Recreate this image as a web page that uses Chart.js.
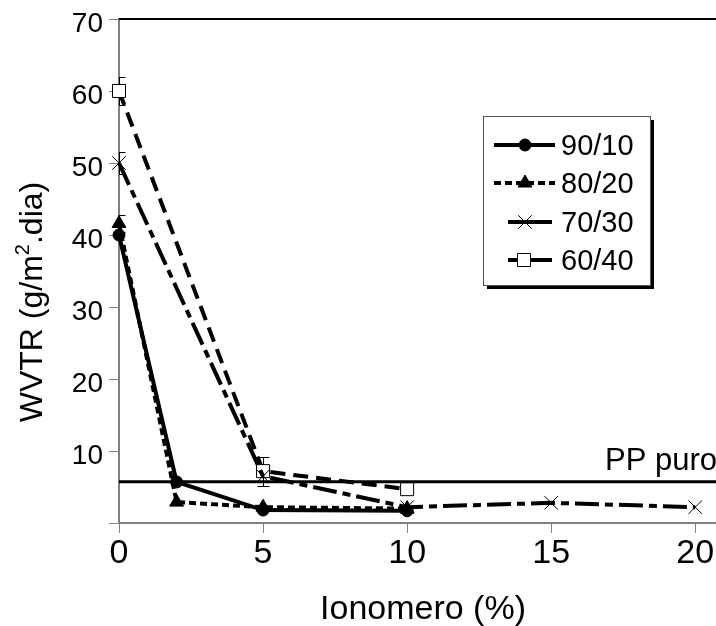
<!DOCTYPE html>
<html>
<head>
<meta charset="utf-8">
<script src="https://cdn.jsdelivr.net/npm/chart.js@4.4.0/dist/chart.umd.min.js"></script>
<style>
html,body{margin:0;padding:0;background:#fff;}
#wrap{width:716px;height:626px;}
</style>
</head>
<body>
<div id="wrap"><canvas id="c" width="716" height="626"></canvas></div>
<script>
// ---- data ----
const xTicks = [0, 5, 10, 15, 20];
const yTicks = [0, 10, 20, 30, 40, 50, 60, 70];
const seriesNames = ['90/10', '80/20', '70/30', '60/40'];
const x9010 = [0, 2, 5, 10];
const y9010 = [40, 5.7, 1.8, 1.7];
const e9010 = [0, 0, 0, 0];
const x8020 = [0, 2, 5, 10];
const y8020 = [41.6, 2.9, 2.2, 2.0];
const e8020 = [1.2, 0, 0, 0];
const x7030 = [0, 5, 10, 15, 20];
const y7030 = [50, 6.5, 2.2, 2.8, 2.2];
const e7030 = [1.5, 0, 0, 0, 0];
const x6040 = [0, 5, 10];
const y6040 = [60, 7.2, 4.7];
const e6040 = [2, 2, 0];
const ppPuroLabel = 'PP puro';
const ppPuroValue = 5.74;
const xTitle = 'Ionomero (%)';
const yTitleParts = ['WVTR (g/m', '2', '.dia)'];

const xMin = 0, xMax = 20.72, yMin = 0, yMax = 70;
const FONT = '"Liberation Sans", Arial, sans-serif';

function pts(xs, ys) { return xs.map((x, i) => ({x: x, y: ys[i]})); }

const styles = [
  {dash: [], pointStyle: 'circle', radius: 6, bg: '#000', pbw: 1},
  {dash: [7, 4], pointStyle: 'triangle', radius: 8, bg: '#000', pbw: 1},
  {dash: [24, 6, 8, 6], pointStyle: 'crossRot', radius: 9.5, bg: '#000', pbw: 1},
  {dash: [15, 8], pointStyle: 'rect', radius: 9.2, bg: '#fff', pbw: 1}
];
const seriesX = [x9010, x8020, x7030, x6040];
const seriesY = [y9010, y8020, y7030, y6040];
const seriesE = [e9010, e8020, e7030, e6040];

const datasets = seriesNames.map((name, k) => ({
  label: name,
  data: pts(seriesX[k], seriesY[k]),
  errors: seriesE[k],
  borderColor: '#000',
  borderWidth: 4,
  borderDash: styles[k].dash,
  pointStyle: styles[k].pointStyle,
  pointRadius: styles[k].radius,
  pointHoverRadius: styles[k].radius,
  pointBackgroundColor: styles[k].bg,
  pointBorderColor: '#000',
  pointBorderWidth: styles[k].pbw,
  tension: 0,
  fill: false,
  clip: false
}));
datasets.unshift({
  label: ppPuroLabel,
  data: pts([xMin, xMax], [ppPuroValue, ppPuroValue]),
  borderColor: '#000',
  borderWidth: 3,
  pointRadius: 0,
  tension: 0,
  fill: false,
  clip: false
});

function drawMarker(ctx, style, r, x, y, bg) {
  ctx.save();
  ctx.setLineDash([]);
  ctx.strokeStyle = '#000';
  ctx.fillStyle = bg;
  ctx.lineWidth = 1;
  ctx.beginPath();
  if (style === 'circle') {
    ctx.arc(x, y, r, 0, Math.PI * 2);
    ctx.fill(); ctx.stroke();
  } else if (style === 'triangle') {
    ctx.moveTo(x, y - r);
    ctx.lineTo(x + r * 0.866, y + r * 0.5);
    ctx.lineTo(x - r * 0.866, y + r * 0.5);
    ctx.closePath();
    ctx.fill(); ctx.stroke();
  } else if (style === 'crossRot') {
    const s = r * 0.707;
    ctx.moveTo(x - s, y - s); ctx.lineTo(x + s, y + s);
    ctx.moveTo(x + s, y - s); ctx.lineTo(x - s, y + s);
    ctx.stroke();
  } else if (style === 'rect') {
    const s = r * 0.707;
    ctx.rect(x - s, y - s, 2 * s, 2 * s);
    ctx.fill(); ctx.stroke();
  }
  ctx.restore();
}

const decorPlugin = {
  id: 'decor',
  beforeDatasetsDraw(chart) {
    const ctx = chart.ctx, a = chart.chartArea;
    // top frame line
    ctx.save();
    ctx.strokeStyle = '#000';
    ctx.lineWidth = 2;
    ctx.beginPath();
    ctx.moveTo(a.left, a.top);
    ctx.lineTo(a.right, a.top);
    ctx.stroke();
    ctx.restore();
    // error bars
    const xs = chart.scales.x, ys = chart.scales.y;
    ctx.save();
    ctx.beginPath();
    ctx.rect(a.left, 0, chart.width - a.left, chart.height);
    ctx.clip();
    ctx.strokeStyle = '#000';
    ctx.lineWidth = 1;
    chart.data.datasets.forEach(ds => {
      if (!ds.errors) return;
      ds.data.forEach((p, i) => {
        const e = ds.errors[i];
        if (!e) return;
        const px = Math.round(xs.getPixelForValue(p.x)) + 0.5;
        const t = Math.round(ys.getPixelForValue(p.y + e)) + 0.5;
        const b = Math.round(ys.getPixelForValue(p.y - e)) + 0.5;
        ctx.beginPath();
        ctx.moveTo(px, t); ctx.lineTo(px, b);
        ctx.moveTo(px - 6, t); ctx.lineTo(px + 6, t);
        ctx.moveTo(px - 6, b); ctx.lineTo(px + 6, b);
        ctx.stroke();
      });
    });
    ctx.restore();
  },
  afterDraw(chart) {
    const ctx = chart.ctx;
    const ys = chart.scales.y;
    // PP puro label
    ctx.save();
    ctx.fillStyle = '#000';
    ctx.font = '31px ' + FONT;
    ctx.textAlign = 'left';
    ctx.textBaseline = 'alphabetic';
    ctx.fillText(ppPuroLabel, 605, ys.getPixelForValue(ppPuroValue) - 12);
    // x title
    ctx.font = '34px ' + FONT;
    ctx.textAlign = 'center';
    ctx.fillText(xTitle, 423, 619);
    // y title with superscript
    ctx.translate(42, 302);
    ctx.rotate(-Math.PI / 2);
    ctx.textAlign = 'left';
    ctx.font = '32px ' + FONT;
    const w1 = ctx.measureText(yTitleParts[0]).width;
    const w3 = ctx.measureText(yTitleParts[2]).width;
    ctx.font = '20px ' + FONT;
    const w2 = ctx.measureText(yTitleParts[1]).width;
    let x0 = -(w1 + w2 + w3) / 2;
    ctx.font = '32px ' + FONT;
    ctx.fillText(yTitleParts[0], x0, 0);
    ctx.font = '20px ' + FONT;
    ctx.fillText(yTitleParts[1], x0 + w1, -13);
    ctx.font = '32px ' + FONT;
    ctx.fillText(yTitleParts[2], x0 + w1 + w2, 0);
    ctx.restore();

    // legend
    ctx.save();
    const L = 483, T = 116, R = 650, B = 285;
    ctx.fillStyle = '#000';
    ctx.fillRect(L + 4, T + 4, R - L, B - T);
    ctx.fillStyle = '#fff';
    ctx.fillRect(L, T, R - L, B - T);
    ctx.strokeStyle = '#555';
    ctx.lineWidth = 1;
    ctx.strokeRect(L + 0.5, T + 0.5, R - L, B - T);
    const rows = [145, 183, 222, 260];
    const lineX = [[494, 555], [494, 555], [508, 552], [508, 552]];
    const mx = [525, 525, 525, 524];
    const legR = [6, 8, 9.5, 9.2];
    chart.data.datasets.slice(1).forEach((ds, k) => {
      const y = rows[k];
      ctx.save();
      ctx.strokeStyle = '#000';
      ctx.lineWidth = 4;
      ctx.setLineDash(k === 1 ? [7, 4] : []);
      ctx.beginPath();
      ctx.moveTo(lineX[k][0], y);
      ctx.lineTo(lineX[k][1], y);
      ctx.stroke();
      ctx.restore();
      drawMarker(ctx, ds.pointStyle, legR[k], mx[k], y, ds.pointBackgroundColor);
      ctx.fillStyle = '#000';
      ctx.font = '29px ' + FONT;
      ctx.textAlign = 'left';
      ctx.textBaseline = 'alphabetic';
      ctx.fillText(ds.label, 561, y + 10);
    });
    ctx.restore();
  }
};

new Chart(document.getElementById('c'), {
  type: 'line',
  data: {datasets: datasets},
  options: {
    responsive: false,
    animation: false,
    layout: {autoPadding: false, padding: {top: 19, right: 0, left: 0, bottom: 0}},
    plugins: {legend: {display: false}, tooltip: {enabled: false}},
    scales: {
      x: {
        type: 'linear',
        min: xMin, max: xMax,
        afterFit(s) { s.height = 103; s.paddingLeft = 0; s.paddingRight = 0; },
        afterBuildTicks(s) { s.ticks = xTicks.map(v => ({value: v})); },
        grid: {display: true, drawOnChartArea: false, drawTicks: true, tickLength: 10, color: '#808080', lineWidth: 1},
        border: {display: true, color: '#808080', width: 2},
        ticks: {color: '#000', font: {family: FONT, size: 34}, padding: 0, maxRotation: 0, autoSkip: false}
      },
      y: {
        type: 'linear',
        min: yMin, max: yMax,
        afterFit(s) { s.width = 119; s.paddingTop = 0; s.paddingBottom = 0; },
        afterBuildTicks(s) { s.ticks = yTicks.map(v => ({value: v})); },
        grid: {display: true, drawOnChartArea: false, drawTicks: true, tickLength: 10, color: '#808080', lineWidth: 1},
        border: {display: true, color: '#808080', width: 2},
        ticks: {color: '#000', font: {family: FONT, size: 28}, padding: 6, labelOffset: 5, autoSkip: false,
          callback: v => (v === 0 ? '' : String(v))}
      }
    }
  },
  plugins: [decorPlugin]
});
</script>
</body>
</html>
